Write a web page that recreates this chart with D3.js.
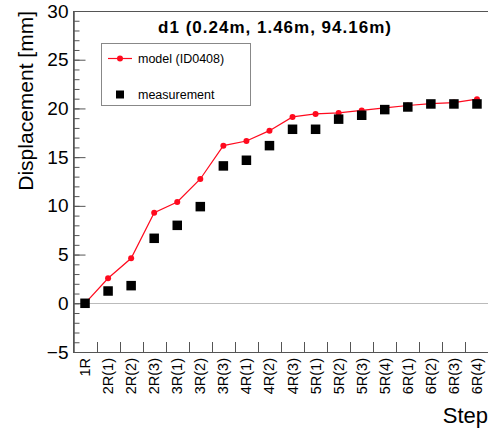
<!DOCTYPE html>
<html>
<head>
<meta charset="utf-8">
<script src="https://cdn.jsdelivr.net/npm/d3@7"></script>
<style>
  body { margin: 0; background: #fff; }
  svg { display: block; font-family: "Liberation Sans", Arial, Helvetica, sans-serif; }
</style>
</head>
<body>
<svg id="canvas" width="488" height="430"></svg>
<script>
let categories = ['1R', '2R(1)', '2R(2)', '2R(3)', '3R(1)', '3R(2)', '3R(3)', '4R(1)', '4R(2)',
                  '4R(3)', '5R(1)', '5R(2)', '5R(3)', '5R(4)', '6R(1)', '6R(2)', '6R(3)', '6R(4)']
let modelValues    = [0, 2.57, 4.62, 9.3, 10.4, 12.76, 16.18, 16.66, 17.72, 19.13, 19.44, 19.54, 19.8, 20.05, 20.3, 20.5, 20.6, 20.95]
let measuredValues = [0, 1.26, 1.81, 6.67, 8.0, 9.92, 14.1, 14.68, 16.18, 17.86, 17.86, 18.9, 19.3, 19.88, 20.15, 20.46, 20.46, 20.46]
let yMajorTicks = [-5, 0, 5, 10, 15, 20, 25, 30]
let yMinorTicks = d3.range(-5, 31, 1)

let title = 'd1 (0.24m, 1.46m, 94.16m)'
let modelLabel = 'model (ID0408)'
let measLabel = 'measurement'

let padL = 73.5, padR = 488.5, padT = 11, padB = 352
let axisColor = '#555'
let red = '#ff0a1e'

let canvas = d3.select('#canvas')

let x = d3.scaleBand().domain(categories).range([padL, padR]).padding(0)
let cx = (d) => x(d) + x.bandwidth() / 2
let y = d3.scaleLinear().domain([-5, 30]).range([padB, padT])

// frame
canvas.append('rect')
    .attr('x', padL).attr('y', padT + 0.5)
    .attr('width', padR - padL).attr('height', padB - padT)
    .attr('fill', 'none').attr('stroke', axisColor).attr('stroke-width', 1)

// zero line
canvas.append('line')
    .attr('x1', padL).attr('x2', padR)
    .attr('y1', Math.round(y(0)) + 0.5).attr('y2', Math.round(y(0)) + 0.5)
    .attr('stroke', '#777').attr('stroke-dasharray', '1,1')

// y axis: minor + major ticks pointing inward
let yMinor = canvas.append('g').attr('transform', `translate(${padL},0)`)
    .call(d3.axisLeft(y).tickValues(yMinorTicks).tickSize(-6).tickFormat(''))
let yMajor = canvas.append('g').attr('transform', `translate(${padL},0)`)
    .call(d3.axisLeft(y).tickValues(yMajorTicks).tickSize(-12).tickPadding(5)
        .tickFormat((d) => d < 0 ? '\u2212' + Math.abs(d) : d))
yMajor.selectAll('text').attr('font-size', '19px').attr('fill', '#000')
    .attr('font-family', '"Liberation Sans", Arial, sans-serif')
canvas.selectAll('.domain').attr('stroke', axisColor)
canvas.selectAll('.tick line').attr('stroke', axisColor)

// x axis ticks at bin edges
canvas.selectAll('.xtick')
    .data(categories.slice(1))
    .enter()
    .append('line')
    .attr('class', 'xtick')
    .attr('x1', (d) => Math.round(x(d)) + 0.5)
    .attr('x2', (d) => Math.round(x(d)) + 0.5)
    .attr('y1', padB).attr('y2', padB - 10)
    .attr('stroke', axisColor)

canvas.selectAll('.xlabel')
    .data(categories)
    .enter()
    .append('text')
    .attr('class', 'xlabel')
    .attr('transform', (d) => `translate(${cx(d) + 5},${padB + 6}) rotate(-90)`)
    .attr('text-anchor', 'end')
    .attr('font-size', '14.5px')
    .text((d) => d)

// axis titles
canvas.append('text')
    .attr('transform', `translate(33,${padT}) rotate(-90)`)
    .attr('text-anchor', 'end')
    .attr('font-size', '21px')
    .text('Displacement [mm]')

canvas.append('text')
    .attr('x', 488).attr('y', 423)
    .attr('text-anchor', 'end')
    .attr('font-size', '22px')
    .text('Step')

// title
canvas.append('text')
    .attr('x', 275).attr('y', 33)
    .attr('text-anchor', 'middle')
    .attr('font-size', '17px')
    .attr('font-weight', 'bold')
    .attr('letter-spacing', '1px')
    .text(title)

// model line + dots
let line = d3.line().x((d, i) => cx(categories[i])).y((d) => y(d))
canvas.append('path')
    .datum(modelValues)
    .attr('d', line)
    .attr('fill', 'none')
    .attr('stroke', red)
    .attr('stroke-width', 1.2)

canvas.selectAll('.mdot')
    .data(modelValues)
    .enter()
    .append('circle')
    .attr('class', 'mdot')
    .attr('cx', (d, i) => cx(categories[i]))
    .attr('cy', (d) => y(d))
    .attr('r', 3)
    .attr('fill', red)

// measurement squares
let sq = 9.5
canvas.selectAll('.meas')
    .data(measuredValues)
    .enter()
    .append('rect')
    .attr('class', 'meas')
    .attr('x', (d, i) => cx(categories[i]) - sq / 2)
    .attr('y', (d) => y(d) - sq / 2)
    .attr('width', sq).attr('height', sq)
    .attr('fill', '#000')

// legend
let legend = canvas.append('g')
legend.append('rect')
    .attr('x', 101.5).attr('y', 43.5).attr('width', 149).attr('height', 62)
    .attr('fill', '#fff').attr('stroke', '#888')
legend.append('line')
    .attr('x1', 108).attr('x2', 132).attr('y1', 58.5).attr('y2', 58.5)
    .attr('stroke', red).attr('stroke-width', 1.2)
legend.append('circle').attr('cx', 120).attr('cy', 58.5).attr('r', 3).attr('fill', red)
legend.append('text').attr('x', 138).attr('y', 62.5).attr('font-size', '12.5px').text(modelLabel)
legend.append('rect').attr('x', 116).attr('y', 90.5).attr('width', 8).attr('height', 8).attr('fill', '#000')
legend.append('text').attr('x', 138).attr('y', 98.5).attr('font-size', '12.5px').text(measLabel)
</script>
</body>
</html>
